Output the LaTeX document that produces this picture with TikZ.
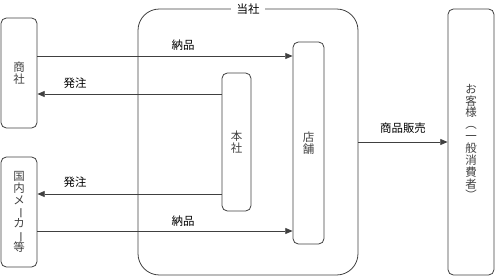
\documentclass[tikz,border=0pt]{standalone}
\usepackage{fontspec,graphicx}
\newfontfamily\jp{Noto Sans CJK JP}
\usetikzlibrary{arrows.meta}
\newcommand{\vbar}{\raisebox{0pt}[.75em][.1em]{\rotatebox[origin=c]{-90}{ー}}}

\begin{document}
\begin{tikzpicture}[x=.75pt,y=-.75pt,
  font=\jp\fontsize{8.6}{8.9}\selectfont,
  line/.style={black!75,line width=.6pt},
  flow/.style={line,-{Triangle[length=5.5pt,width=4.5pt]}},
  party/.style={line,draw,rounded corners=4pt,inner sep=0pt,align=center},
  lbl/.style={inner sep=1pt}]
\useasboundingbox (0,0) rectangle (495,277);
% parties outside
\node[party,minimum width=27pt,minimum height=82.5pt] (shosha) at (19,73)
  {商\\社};
\node[party,minimum width=27pt,minimum height=82.5pt] (maker) at (19,212)
  {国\\内\\メ\\\vbar\\カ\\\vbar\\等};
\node[party,minimum width=34.5pt,minimum height=199.5pt] (kyaku) at (471,142)
  {お\\客\\様\\︵\\一\\般\\消\\費\\者\\︶};
% the company
\node[party,rounded corners=16pt,minimum width=165pt,minimum height=199.5pt]
  (tousha) at (248,142) {};
\node[fill=white,inner sep=4.5pt] (toushalbl) at (248,9) {当社};
\node[party,minimum width=21.75pt,minimum height=103.5pt] (honsha)
  at (236.5,142) {本\\社};
\node[party,minimum width=23.25pt,minimum height=151.5pt] (tenpo)
  at (308.5,143) {店\\舗};
% flows
\draw[flow] (shosha.east |- 0,56) -- (tenpo.west |- 0,56);
\draw[flow] (honsha.west |- 0,94) -- (shosha.east |- 0,94);
\draw[flow] (honsha.west |- 0,194) -- (maker.east |- 0,194);
\draw[flow] (maker.east |- 0,231) -- (tenpo.west |- 0,231);
\draw[flow] (tousha.east |- 0,142) -- (kyaku.west |- 0,142);
\node[lbl] (nohin1) at (183,45) {納品};
\node[lbl] (hatchu1) at (75,83) {発注};
\node[lbl] (hatchu2) at (75,182) {発注};
\node[lbl] (nohin2) at (183,221) {納品};
\node[lbl] (hanbai) at (403,128) {商品販売};
\end{tikzpicture}
\end{document}
